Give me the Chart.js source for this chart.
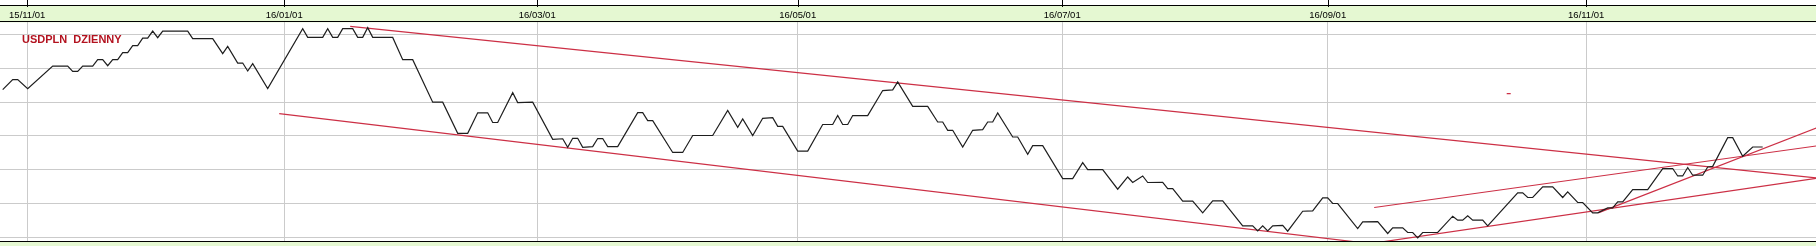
<!DOCTYPE html>
<html>
<head>
<meta charset="utf-8">
<title>USDPLN dzienny</title>
<script src="https://cdn.jsdelivr.net/npm/chart.js@4.4.0/dist/chart.umd.min.js"></script>
<style>
    html, body { margin: 0; padding: 0; background: #fff; }
    canvas { display: block; }
</style>
</head>
<body>
<canvas id="chart" width="1816" height="246"></canvas>
<script>
// x = session number (one step per trading day), y = USDPLN close
const sessions = [0, 2, 3, 5, 10, 13, 14, 15, 16, 18, 19, 20, 21, 22, 23, 24, 25, 26, 27, 28, 29, 30, 31, 32, 37, 38, 42, 44, 45, 47, 48, 49, 50, 53,
    60, 61, 64, 65, 66, 67, 68, 70, 71, 72, 73, 74, 78, 80, 82, 86, 88, 91, 93, 95, 97, 98, 99, 102, 103, 106, 110, 112, 113, 114, 115, 116, 118,
    119, 120, 121, 123, 127, 128, 129, 130, 134, 136, 138, 142, 145, 147, 148, 150, 152, 154, 155, 156, 159, 161, 164, 166, 167, 168, 169, 170,
    173, 176, 178, 179, 182, 185, 187, 188, 189, 190, 192, 194, 196, 197, 198, 199, 202, 203, 205, 206, 208, 212, 214, 216, 217, 220, 223, 225,
    226, 228, 229, 232, 233, 234, 236, 238, 240, 242, 244, 248, 250, 251, 252, 253, 254, 256, 257, 260, 262, 264, 265, 266, 267, 271, 272, 275,
    277, 278, 280, 281, 282, 283, 284, 287, 290, 291, 292, 293, 294, 296, 297, 303, 304, 305, 306, 308, 310, 312, 313, 315, 316, 318, 319, 321,
    322, 323, 324, 326, 329, 332, 334, 335, 336, 337, 338, 340, 341, 342, 345, 346, 348, 350, 352];
const closes = [4.0186, 4.0334, 4.0334, 4.0201, 4.0536, 4.0536, 4.0457, 4.0457, 4.0536, 4.0536, 4.0630, 4.0630, 4.0541, 4.0630, 4.0630,
    4.0734, 4.0734, 4.0837, 4.0837, 4.0950, 4.0950, 4.1053, 4.0956, 4.1053, 4.1053, 4.0941, 4.0941, 4.0719, 4.0827, 4.0580, 4.0580, 4.0462,
    4.0571, 4.0201, 4.1089, 4.0960, 4.0960, 4.1089, 4.0960, 4.0960, 4.1089, 4.1089, 4.0960, 4.0960, 4.1104, 4.0960, 4.0960, 4.0630, 4.0630,
    4.0000, 4.0000, 3.9540, 3.9540, 3.9843, 3.9843, 3.9700, 3.9700, 4.0142, 3.9994, 4.0000, 3.9451, 3.9459, 3.9333, 3.9466, 3.9466, 3.9333,
    3.9343, 3.9462, 3.9462, 3.9343, 3.9343, 3.9846, 3.9846, 3.9728, 3.9728, 3.9256, 3.9256, 3.9507, 3.9507, 3.9880, 3.9629, 3.9754, 3.9507,
    3.9762, 3.9772, 3.9643, 3.9643, 3.9277, 3.9277, 3.9670, 3.9670, 3.9803, 3.9670, 3.9670, 3.9803, 3.9803, 4.0173, 4.0183, 4.0302, 3.9939,
    3.9939, 3.9707, 3.9707, 3.9584, 3.9584, 3.9337, 3.9584, 3.9595, 3.9707, 3.9707, 3.9840, 3.9485, 3.9485, 3.9229, 3.9358, 3.9358, 3.8870,
    3.8870, 3.9106, 3.9003, 3.9003, 3.8712, 3.8893, 3.8811, 3.8908, 3.8811, 3.8813, 3.8722, 3.8722, 3.8534, 3.8534, 3.8361, 3.8538, 3.8538,
    3.8169, 3.8169, 3.8095, 3.8169, 3.8095, 3.8169, 3.8175, 3.8090, 3.8386, 3.8390, 3.8583, 3.8583, 3.8500, 3.8500, 3.8130, 3.8228, 3.8233,
    3.8056, 3.8139, 3.8139, 3.8071, 3.8071, 3.7991, 3.8071, 3.8071, 3.8312, 3.8253, 3.8253, 3.8317, 3.8253, 3.8253, 3.8169, 3.8657, 3.8657,
    3.8589, 3.8589, 3.8746, 3.8746, 3.8589, 3.8672, 3.8515, 3.8515, 3.8361, 3.8361, 3.8435, 3.8435, 3.8524, 3.8524, 3.8707, 3.8707, 3.9018,
    3.9018, 3.8908, 3.8908, 3.9033, 3.8919, 3.8919, 3.9041, 3.9050, 3.9476, 3.9476, 3.9200, 3.9337, 3.9337];

// month ticks on the top axis
const tickLabels = ['15/11/01', '16/01/01', '16/03/01', '16/05/01', '16/07/01', '16/09/01', '16/11/01'];
const tickSessions = [4.9, 56.3, 106.9, 159.0, 211.9, 265.0, 316.7];
const priceGrid = [3.80, 3.85, 3.90, 3.95, 4.00, 4.05, 4.10];

// trend lines drawn on the chart: [start, end]
const upperChannelX = [69.5, 362.7];
const upperChannelY = [4.1123, 3.8879];
const lowerChannelX = [55.3, 272.7];
const lowerChannelY = [3.9831, 3.7913];
const risingTopX = [274.3, 362.7];
const risingTopY = [3.8441, 3.9352];
const risingBottomX = [272.0, 362.7];
const risingBottomY = [3.7890, 3.8874];
const steepX = [319.1, 362.7];
const steepY = [3.8361, 3.9618];
const markX = [300.8, 301.6];
const markY = [4.0127, 4.0127];

const RED = '#cc2f45';
const BAND = '#e5f8d2';

const toPoints = (xs, ys) => xs.map((x, i) => ({ x: x, y: ys[i] }));

function trend(xs, ys) {
    return {
        data: toPoints(xs, ys),
        borderColor: RED,
        borderWidth: 1.2,
        pointRadius: 0,
        tension: 0
    };
}

// Header/footer bands, top tick marks and the caption
const framePlugin = {
    id: 'frame',
    beforeDraw(chart) {
        const { ctx, width, height, chartArea } = chart;
        ctx.save();
        ctx.fillStyle = '#fff';
        ctx.fillRect(0, 0, width, height);
        ctx.fillStyle = BAND;
        ctx.fillRect(0, 5, width, chartArea.top - 5);
        ctx.fillRect(0, chartArea.bottom, width, height - chartArea.bottom);
        ctx.restore();
    },
    afterDraw(chart) {
        const { ctx, width, chartArea } = chart;
        const xScale = chart.scales.x;
        ctx.save();
        ctx.strokeStyle = '#000';
        ctx.lineWidth = 1;
        ctx.beginPath();
        ctx.moveTo(0, 5.5); ctx.lineTo(width, 5.5);
        ctx.moveTo(0, Math.round(chartArea.top) - 0.5); ctx.lineTo(width, Math.round(chartArea.top) - 0.5);
        ctx.moveTo(0, Math.round(chartArea.bottom) + 0.5); ctx.lineTo(width, Math.round(chartArea.bottom) + 0.5);
        tickSessions.forEach(v => {
            const px = Math.round(xScale.getPixelForValue(v)) + 0.5;
            ctx.moveTo(px, 0); ctx.lineTo(px, 7);
        });
        ctx.stroke();

        ctx.fillStyle = '#b3121f';
        ctx.font = 'bold 11px "Liberation Sans", Arial, sans-serif';
        ctx.textBaseline = 'middle';
        ctx.fillText('USDPLN  DZIENNY', 22, 39.5);
        ctx.restore();
    }
};

new Chart(document.getElementById('chart'), {
    type: 'line',
    data: {
        datasets: [
            {
                data: toPoints(sessions, closes),
                borderColor: '#1e1e1e',
                borderWidth: 1.2,
                pointRadius: 0,
                tension: 0
            },
            trend(upperChannelX, upperChannelY),
            trend(lowerChannelX, lowerChannelY),
            trend(risingTopX, risingTopY),
            trend(risingBottomX, risingBottomY),
            trend(steepX, steepY),
            trend(markX, markY)
        ]
    },
    options: {
        responsive: false,
        animation: false,
        devicePixelRatio: 1,
        layout: { padding: { top: 9, bottom: 5, left: 0, right: 0 } },
        plugins: {
            legend: { display: false },
            tooltip: { enabled: false }
        },
        scales: {
            x: {
                type: 'linear',
                position: 'top',
                min: -0.54,
                max: 362.66,
                afterBuildTicks: scale => { scale.ticks = tickSessions.map(v => ({ value: v })); },
                ticks: {
                    autoSkip: false,
                    maxRotation: 0,
                    padding: 1,
                    color: '#000',
                    font: { family: '"Liberation Sans", Arial, sans-serif', size: 9.5 },
                    callback: (value, index) => tickLabels[index]
                },
                grid: { color: '#cbcbcb', drawTicks: false },
                border: { display: false }
            },
            y: {
                min: 3.7945,
                max: 4.1182,
                afterBuildTicks: scale => { scale.ticks = priceGrid.map(v => ({ value: v })); },
                ticks: { display: false },
                grid: { color: '#cbcbcb', drawTicks: false },
                border: { display: false }
            }
        }
    },
    plugins: [framePlugin]
});
</script>
</body>
</html>
